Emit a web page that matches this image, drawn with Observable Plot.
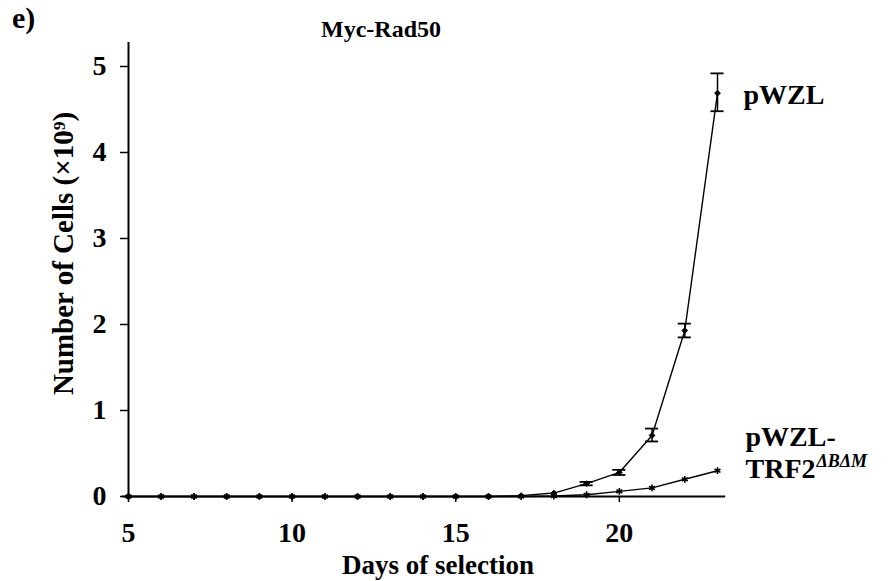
<!DOCTYPE html>
<html>
<head>
<meta charset="utf-8">
<script src="https://cdn.jsdelivr.net/npm/d3@7"></script>
<script src="https://cdn.jsdelivr.net/npm/@observablehq/plot@0.6"></script>
<style>
  body { margin: 0; background: #fff; }
  #wrap { position: relative; width: 890px; height: 581px; font-family: 'Liberation Serif', 'Times New Roman', 'DejaVu Serif', serif; font-weight: bold; color: #000; }
  #wrap svg, #wrap svg text { font-family: 'Liberation Serif', 'Times New Roman', 'DejaVu Serif', serif !important; }
  #panel { position: absolute; left: 12px; top: 0px; font-size: 30px; line-height: 36px; }
  #title { position: absolute; left: 0; width: 762px; text-align: center; top: 14px; font-size: 24px; line-height: 30px; }
</style>
</head>
<body>
<div id="wrap">
  <div id="panel">e)</div>
  <div id="title">Myc-Rad50</div>
</div>
<script>
const days = [5,6,7,8,9,10,11,12,13,14,15,16,17,18,19,20,21,22,23];
const pwzl = [0,0,0,0,0,0,0,0,0,0,0,0,0.01,0.04,0.15,0.28,0.71,1.93,4.69];
const trf2 = [0,0,0,0,0,0,0,0,0,0,0,0,0,0.005,0.02,0.06,0.10,0.20,0.30];
const errDays = [19,20,21,22,23];
const errLow  = [0.13,0.25,0.64,1.85,4.48];
const errHigh = [0.17,0.31,0.79,2.01,4.92];
const xTicks = [5,10,15,20];
const yTicks = [0,1,2,3,4,5];
const seriesNames = ["pWZL", "pWZL-TRF2"];

const rowsA = days.map((d,i) => ({day: d, v: pwzl[i]}));
const rowsB = days.map((d,i) => ({day: d, v: trf2[i]}));
const errs = errDays.map((d,i) => ({day: d, lo: errLow[i], hi: errHigh[i]}));
const last = days.length - 1;

const chart = Plot.plot({
  width: 890,
  height: 581,
  marginLeft: 128,
  marginRight: 173,
  marginTop: 66,
  marginBottom: 85,
  style: "font-family: 'Liberation Serif', 'Times New Roman', serif; font-weight: bold; background: white;",
  x: {domain: [5, 23]},
  y: {domain: [0, 5]},
  marks: [
    Plot.axisY({ticks: yTicks, tickFormat: "d", tickSize: 8, tickPadding: 14, fontSize: 28, fontWeight: "bold", label: null, strokeWidth: 1.5}),
    Plot.axisX({ticks: xTicks, tickFormat: "d", tickSize: 6, tickPadding: 20, fontSize: 28, fontWeight: "bold", label: null, strokeWidth: 1.5}),
    Plot.ruleX([5], {y1: 0, y2: 5.28, strokeWidth: 2}),
    Plot.ruleY([0], {x1: 4.82, x2: 23.25, strokeWidth: 2}),
    Plot.line(rowsB, {x: "day", y: "v", strokeWidth: 1.4}),
    Plot.line(rowsA, {x: "day", y: "v", strokeWidth: 1.4}),
    Plot.ruleX(errs, {x: "day", y1: "lo", y2: "hi", strokeWidth: 1.5}),
    Plot.ruleY(errs, {y: "lo", x1: d => d.day - 0.2, x2: d => d.day + 0.2, strokeWidth: 1.8}),
    Plot.ruleY(errs, {y: "hi", x1: d => d.day - 0.2, x2: d => d.day + 0.2, strokeWidth: 1.8}),
    Plot.dot(rowsB, {x: "day", y: "v", symbol: "asterisk", r: 3.2, stroke: "black", strokeWidth: 1.6}),
    Plot.dot(rowsA, {x: "day", y: "v", symbol: "diamond2", r: 2.6, fill: "black", stroke: "black", strokeWidth: 1}),
    Plot.text(["Number of Cells (×10⁹)"], {frameAnchor: "left", textAnchor: "middle", rotate: -90, dx: -65, dy: -28, fontSize: 29, fontWeight: "bold"}),
    Plot.text(["Days of selection"], {frameAnchor: "bottom", textAnchor: "middle", dx: 15, dy: 77, fontSize: 27, fontWeight: "bold"}),
    Plot.text([rowsA[last]], {x: "day", y: "v", text: () => seriesNames[0], textAnchor: "start", dx: 26, dy: 2, fontSize: 28, fontWeight: "bold"}),
    Plot.text([rowsB[last]], {x: "day", y: "v", text: () => "pWZL-", textAnchor: "start", dx: 28, dy: -34, fontSize: 28, fontWeight: "bold"}),
    Plot.text([rowsB[last]], {x: "day", y: "v", text: () => "TRF2", textAnchor: "start", dx: 28, dy: -2, fontSize: 28, fontWeight: "bold"}),
    Plot.text([rowsB[last]], {x: "day", y: "v", text: () => "ΔBΔM", textAnchor: "start", dx: 99, dy: -9, fontSize: 18, fontWeight: "bold", fontStyle: "italic"})
  ]
});
chart.style.position = "absolute";
chart.style.left = "0";
chart.style.top = "0";
const wrap = document.getElementById("wrap");
wrap.insertBefore(chart, wrap.firstChild);
</script>
</body>
</html>
